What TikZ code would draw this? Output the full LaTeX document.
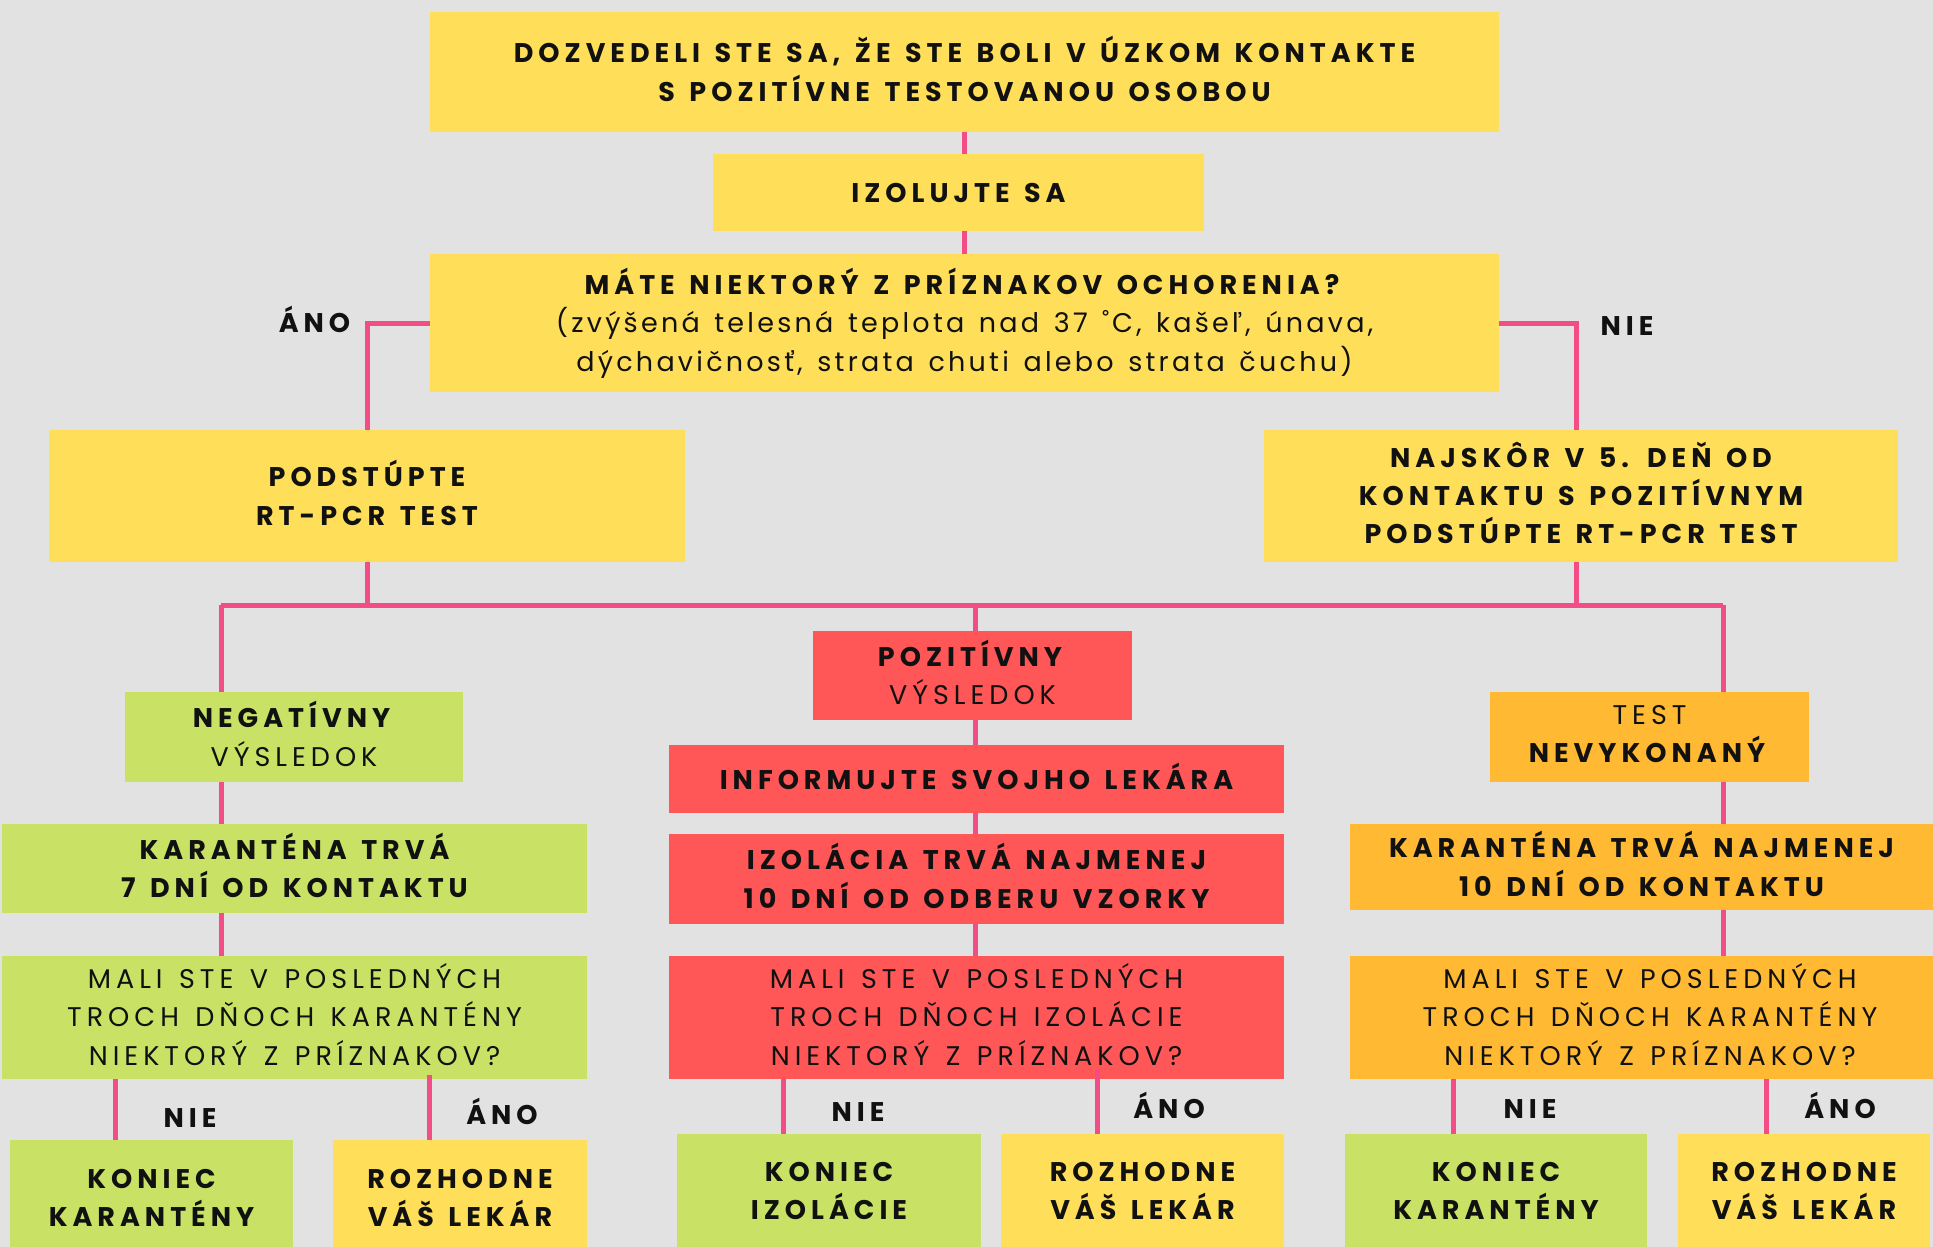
\documentclass[tikz,border=0pt]{standalone}
\usepackage{fontspec}
\setmainfont{Poppins}[LetterSpace=12, WordSpace=1.4]
\newfontfamily\capsfont{Poppins}[LetterSpace=18.5, WordSpace=1.35]
\usetikzlibrary{backgrounds}
\definecolor{bgc}{HTML}{E2E2E2}
\definecolor{cyel}{HTML}{FFDE59}
\definecolor{cgrn}{HTML}{C9E265}
\definecolor{cred}{HTML}{FF5757}
\definecolor{corg}{HTML}{FFB933}
\definecolor{cpink}{HTML}{F24D86}
\definecolor{ctxt}{HTML}{111111}
\begin{document}
\begin{tikzpicture}[x=0.5pt,y=-0.5pt,
  box/.style={rectangle, inner sep=0pt, align=center, text=ctxt,
    font=\capsfont\fontsize{13.5pt}{19.2pt}\selectfont,
    execute at begin node={\rule{0pt}{13.6pt}},
    execute at end node={\rule[-3.2pt]{0pt}{3.2pt}}},
  boldbox/.style={box, font=\capsfont\fontsize{13.5pt}{19.2pt}\selectfont\bfseries},
  lbl/.style={inner sep=0pt, anchor=base, text=ctxt,
    font=\capsfont\fontsize{13.5pt}{19.2pt}\selectfont\bfseries},
  conn/.style={draw=cpink, line width=2.5pt}]
\useasboundingbox (0,0) rectangle (1933,1247);

% top column
\node[boldbox, fill=cyel, minimum width=534.5pt, minimum height=60pt] (top) at (964.5,72)
  {DOZVEDELI STE SA, ŽE STE BOLI V ÚZKOM KONTAKTE\\S POZITÍVNE TESTOVANOU OSOBOU};
\node[boldbox, fill=cyel, minimum width=245.5pt, minimum height=38.5pt] (iso) at (958.5,192.5)
  {IZOLUJTE SA};
\node[box, fill=cyel, minimum width=534.5pt, minimum height=69pt] (mate) at (964.5,323)
  {\textbf{MÁTE NIEKTORÝ Z PRÍZNAKOV OCHORENIA?}\\{\rmfamily (zvýšená telesná teplota nad 37 ˚C, kašeľ, únava,}\\{\rmfamily dýchavičnosť, strata chuti alebo strata čuchu)}};
\node[boldbox, fill=cyel, minimum width=318pt, minimum height=66pt] (pod) at (367,496)
  {PODSTÚPTE\\RT-PCR TEST};
\node[boldbox, fill=cyel, minimum width=317pt, minimum height=66pt] (naj) at (1581,496)
  {NAJSKÔR V 5. DEŇ OD\\KONTAKTU S POZITÍVNYM\\PODSTÚPTE RT-PCR TEST};

% left column
\node[box, fill=cgrn, minimum width=169pt, minimum height=45pt] (neg) at (294,737)
  {\textbf{NEGATÍVNY}\\VÝSLEDOK};
\node[boldbox, fill=cgrn, minimum width=292.5pt, minimum height=44.5pt] (kar7) at (294.5,868.5)
  {KARANTÉNA TRVÁ\\7 DNÍ OD KONTAKTU};
\node[box, fill=cgrn, minimum width=292.5pt, minimum height=61.5pt] (mali1) at (294.5,1017.5)
  {MALI STE V POSLEDNÝCH\\TROCH DŇOCH KARANTÉNY\\NIEKTORÝ Z PRÍZNAKOV?};
\node[boldbox, fill=cgrn, minimum width=141.5pt, minimum height=61pt] (kon1) at (151.5,1201)
  {KONIEC\\KARANTÉNY};
\node[boldbox, fill=cyel, minimum width=127pt, minimum height=61pt] (roz1) at (460,1201)
  {ROZHODNE\\VÁŠ LEKÁR};

% middle column
\node[box, fill=cred, minimum width=159.5pt, minimum height=44.5pt] (poz) at (972.5,675.5)
  {\textbf{POZITÍVNY}\\VÝSLEDOK};
\node[boldbox, fill=cred, minimum width=307.5pt, minimum height=34pt] (inf) at (976.5,779)
  {INFORMUJTE SVOJHO LEKÁRA};
\node[boldbox, fill=cred, minimum width=307.5pt, minimum height=45pt] (izo) at (976.5,879)
  {IZOLÁCIA TRVÁ NAJMENEJ\\10 DNÍ OD ODBERU VZORKY};
\node[box, fill=cred, minimum width=307.5pt, minimum height=61.5pt] (mali2) at (976.5,1017.5)
  {MALI STE V POSLEDNÝCH\\TROCH DŇOCH IZOLÁCIE\\NIEKTORÝ Z PRÍZNAKOV?};
\node[boldbox, fill=cgrn, minimum width=152pt, minimum height=60pt] (kon2) at (829,1194)
  {KONIEC\\IZOLÁCIE};
\node[boldbox, fill=cyel, minimum width=141.5pt, minimum height=60pt] (roz2) at (1142.5,1194)
  {ROZHODNE\\VÁŠ LEKÁR};

% right column
\node[box, fill=corg, minimum width=159.5pt, minimum height=45pt] (test) at (1649.5,737)
  {TEST\\\textbf{NEVYKONANÝ}};
\node[boldbox, fill=corg, minimum width=291.5pt, minimum height=43pt] (kar10) at (1641.5,867)
  {KARANTÉNA TRVÁ NAJMENEJ\\10 DNÍ OD KONTAKTU};
\node[box, fill=corg, minimum width=300pt, minimum height=61.5pt] (mali3) at (1650,1017.5)
  {MALI STE V POSLEDNÝCH\\TROCH DŇOCH KARANTÉNY\\NIEKTORÝ Z PRÍZNAKOV?};
\node[boldbox, fill=cgrn, minimum width=151pt, minimum height=60pt] (kon3) at (1496,1194)
  {KONIEC\\KARANTÉNY};
\node[boldbox, fill=cyel, minimum width=126pt, minimum height=60pt] (roz3) at (1804,1194)
  {ROZHODNE\\VÁŠ LEKÁR};

% labels
\node[lbl] (ano0) at (314.5,332) {ÁNO};
\node[lbl] (nie0) at (1627,335) {NIE};
\node[lbl] (nie1) at (190,1127) {NIE};
\node[lbl] (ano1) at (502,1124) {ÁNO};
\node[lbl] (nie2) at (858,1121) {NIE};
\node[lbl] (ano2) at (1169,1118) {ÁNO};
\node[lbl] (nie3) at (1530,1118) {NIE};
\node[lbl] (ano3) at (1840,1118) {ÁNO};

\coordinate (busL) at (221,605);
\coordinate (busM) at (975,605);
\coordinate (busR) at (1723,605);

\begin{scope}[on background layer]
  \fill[bgc] (0,0) rectangle (1933,1247);
  \draw[conn] (top.south) -- (mate.north);
  \draw[conn] (mate.west) -| (pod.north);
  \draw[conn] (mate.east) -| ([xshift=-2.5pt]naj.north);
  \draw[conn] (pod.south) -- (pod.south |- busL);
  \draw[conn] ([xshift=-2.5pt]naj.south) -- ([xshift=-2.5pt]naj.south |- busL);
  \draw[conn] (busL) -- (busR);
  \draw[conn] (busL) -- (busL |- mali1.north);
  \draw[conn] (busM) -- (busM |- mali2.north);
  \draw[conn] (busR) -- (busR |- mali3.north);
  \draw[conn] (mali1.south -| 115,0) -- (kon1.north -| 115,0);
  \draw[conn] (mali2.south -| 783,0) -- (kon2.north -| 783,0);
  \draw[conn] (mali3.south -| 1453,0) -- (kon3.north -| 1453,0);
  \draw[conn] (mali3.south -| 1766,0) -- (roz3.north -| 1766,0);
\end{scope}
\draw[conn] ([yshift=2pt]mali1.south -| 429,0) -- (roz1.north -| 429,0);
\draw[conn] ([yshift=4.5pt]mali2.south -| 1097,0) -- (roz2.north -| 1097,0);
\end{tikzpicture}
\end{document}
